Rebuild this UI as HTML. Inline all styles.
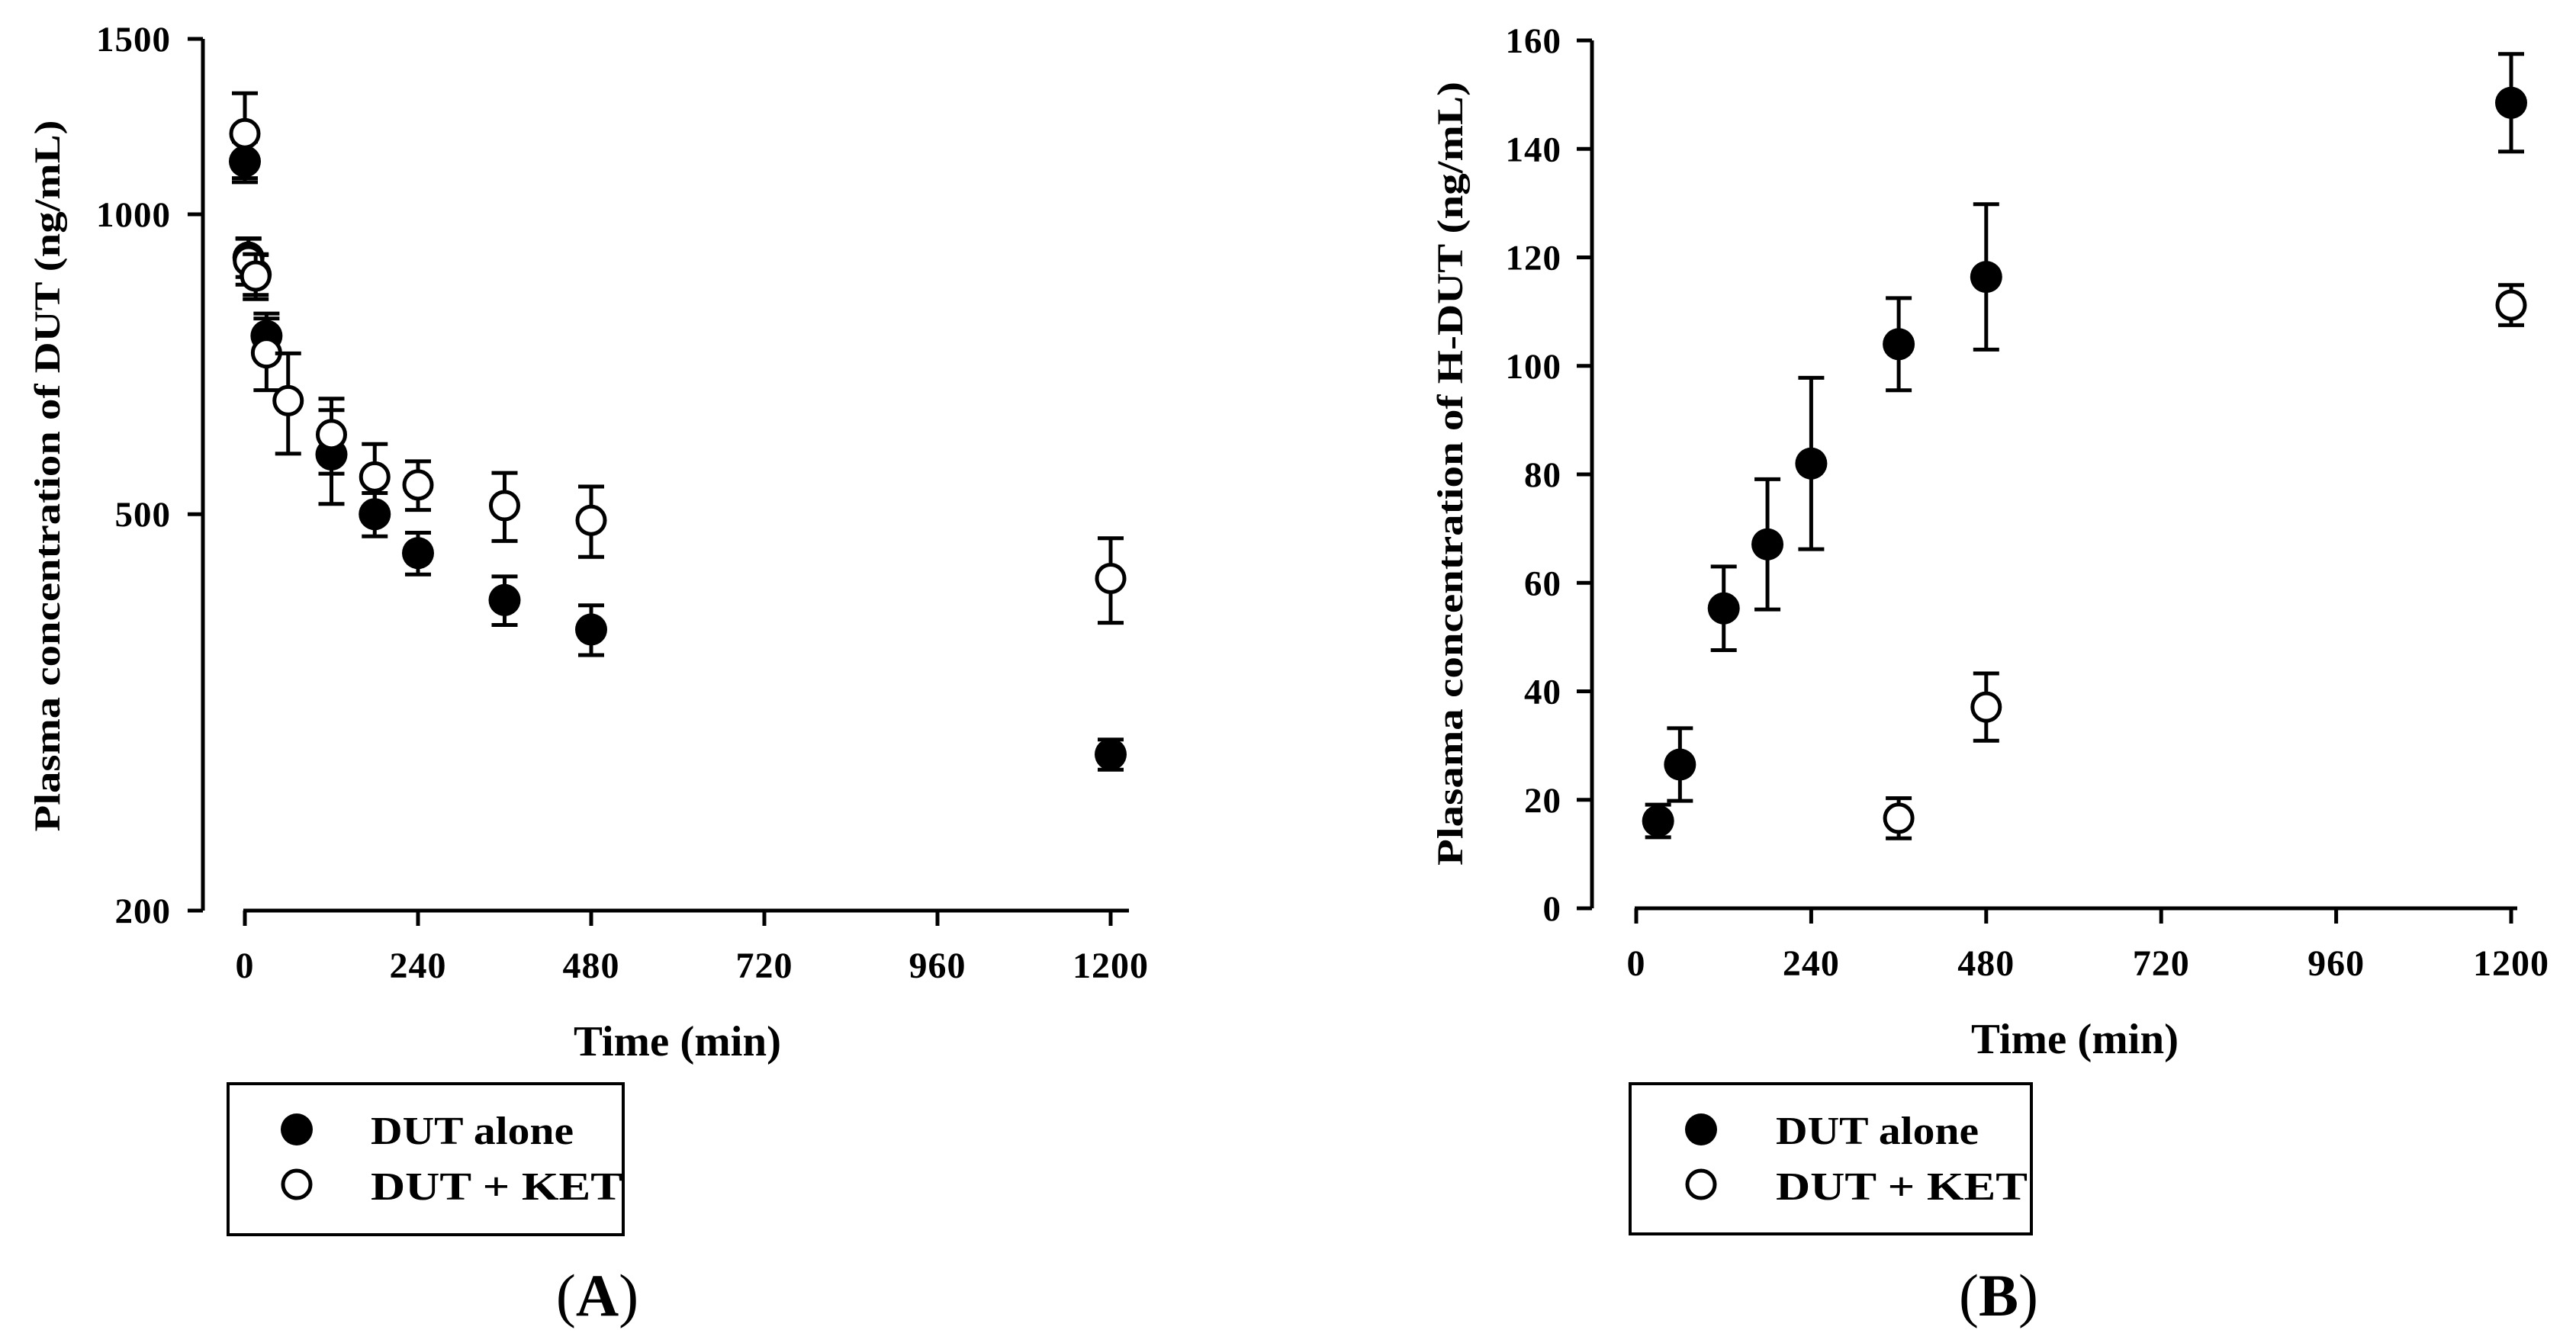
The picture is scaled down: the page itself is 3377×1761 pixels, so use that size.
<!DOCTYPE html>
<html><head><meta charset="utf-8"><style>
html,body{margin:0;padding:0;background:#fff;}
svg{display:block;}
text{font-family:"Liberation Serif","DejaVu Serif",serif;font-weight:bold;fill:#000;}
</style></head><body>
<svg id="fig" width="3377" height="1761" viewBox="0 0 3377 1761" xmlns="http://www.w3.org/2000/svg">
<rect width="3377" height="1761" fill="#fff"/>
<g id="panelA"></g>
<g id="panelB"></g>
</svg>
<script>
// Panel A data (log scale, DUT ng/mL)
const timesA = [0, 5, 15, 30, 60, 120, 180, 240, 360, 480, 1200];
const aloneA = [1130, 905, 870, 755, null, 574, 500, 457, 410, 383, 287];
const aloneErrA = [53, 40, 40, 40, null, 62, 25, 22, 23, 22, 10];
const ketA = [1205, 898, 867, 726, 650, 601, 545, 535, 510, 493, 431];
const ketErrA = [118, 48, 45, 60, 75, 52, 43, 30, 40, 40, 42];
const yTicksA = [200, 500, 1000, 1500];
const xTicks = [0, 240, 480, 720, 960, 1200];
// Panel B data (linear, H-DUT ng/mL)
const timesBAlone = [30, 60, 120, 180, 240, 360, 480, 1200];
const aloneB = [16.1, 26.5, 55.3, 67.1, 82, 104, 116.4, 148.5];
const aloneErrB = [3, 6.7, 7.7, 12, 15.8, 8.5, 13.4, 9];
const timesBKet = [360, 480, 1200];
const ketB = [16.6, 37.1, 111.2];
const ketErrB = [3.7, 6.2, 3.7];
const yTicksB = [0, 20, 40, 60, 80, 100, 120, 140, 160];

const NS = "http://www.w3.org/2000/svg";
function mk(parent, tag, attrs, txt) {
  const e = document.createElementNS(NS, tag);
  for (const k in attrs) e.setAttribute(k, attrs[k]);
  if (txt !== undefined) e.textContent = txt;
  parent.appendChild(e);
  return e;
}

function drawPanel(g, cfg) {
  const xs = t => cfg.x0 + (t / 1200) * (cfg.x1 - cfg.x0);
  const ys = cfg.ys;
  let el = mk(g, 'line', {x1: cfg.yAxisX, y1: ys(cfg.yTop), x2: cfg.yAxisX, y2: cfg.axisY, stroke: '#000', 'stroke-width': 5});
  
  
  cfg.yTicks.forEach(v => {
    const y = ys(v);
    let t = mk(g, 'line', {x1: cfg.yAxisX - 20, y1: y, x2: cfg.yAxisX, y2: y, stroke: '#000', 'stroke-width': 5});
    
    
    let l = mk(g, 'text', {x: cfg.yLabelRight, y: y + 16, 'text-anchor': 'end', 'font-size': 47, 'letter-spacing': 1}, String(v));
    
    
  });
  el = mk(g, 'line', {x1: cfg.x0 - 2, y1: cfg.axisY, x2: cfg.xAxisEnd, y2: cfg.axisY, stroke: '#000', 'stroke-width': 5});
  
  
  xTicks.forEach(v => {
    const x = xs(v);
    let t = mk(g, 'line', {x1: x, y1: cfg.axisY, x2: x, y2: cfg.axisY + 20, stroke: '#000', 'stroke-width': 5});
    
    
    let l = mk(g, 'text', {x: x, y: cfg.axisY + 88, 'text-anchor': 'middle', 'font-size': 48, 'letter-spacing': 1}, String(v));
    
    
  });
  el = mk(g, 'text', {x: cfg.xTitleX, y: cfg.axisY + 190, 'text-anchor': 'middle', 'font-size': 56, textLength: 272, lengthAdjust: 'spacingAndGlyphs'}, 'Time (min)');
  
  
  el = mk(g, 'text', {x: 0, y: 0, 'text-anchor': 'middle', 'font-size': 48, textLength: cfg.yTitleLen, lengthAdjust: 'spacingAndGlyphs', transform: `translate(${cfg.yTitleX},${cfg.yTitleY}) rotate(-90)`}, cfg.yTitle);
  
  

  function series(times, vals, errs, filled, name) {
    const sg = mk(g, 'g', {});
    
    
    times.forEach((t, i) => {
      if (vals[i] == null) return;
      const x = xs(t), y = ys(vals[i]);
      const yu = ys(vals[i] + errs[i]), yl = ys(vals[i] - errs[i]);
      let b = mk(sg, 'line', {x1: x, y1: yu, x2: x, y2: yl, stroke: '#000', 'stroke-width': 5});
      
      
      [yu, yl].forEach(yy => {
        let c = mk(sg, 'line', {x1: x - 17, y1: yy, x2: x + 17, y2: yy, stroke: '#000', 'stroke-width': 5});
        
        
      });
      let p = mk(sg, 'circle', {cx: x, cy: y, r: filled ? 21 : 18, fill: filled ? '#000' : '#fff', stroke: '#000', 'stroke-width': filled ? 0 : 5});
      
      
    });
  }
  series(cfg.tA, cfg.vA, cfg.eA, true, 'series-dut-alone');
  series(cfg.tK, cfg.vK, cfg.eK, false, 'series-dut-ket');

  const lg = mk(g, 'g', {});
  
  
  const L = cfg.legend;
  mk(lg, 'rect', {x: L.x, y: L.y, width: L.w, height: L.h, fill: 'none', stroke: '#000', 'stroke-width': 4});
  let m = mk(lg, 'circle', {cx: L.mx, cy: L.y + 60, r: 21, fill: '#000'});
  
  
  let tx = mk(lg, 'text', {x: L.tx, y: L.y + 79, 'font-size': 52, textLength: 266, lengthAdjust: 'spacingAndGlyphs'}, 'DUT alone');
  
  
  m = mk(lg, 'circle', {cx: L.mx, cy: L.y + 132, r: 18, fill: '#fff', stroke: '#000', 'stroke-width': 5});
  
  
  tx = mk(lg, 'text', {x: L.tx, y: L.y + 152, 'font-size': 52, textLength: 330, lengthAdjust: 'spacingAndGlyphs'}, 'DUT + KET');
  
  

  const pl = mk(g, 'text', {x: cfg.labelX, y: 1725, 'text-anchor': 'middle', 'font-size': 78, 'font-weight': 'normal'});
  
  
  mk(pl, 'tspan', {'font-weight': 'normal'}, '(');
  mk(pl, 'tspan', {'font-weight': 'bold'}, cfg.label);
  mk(pl, 'tspan', {'font-weight': 'normal'}, ')');
}

const lgA = Math.log10(200), lgTop = Math.log10(1500);
drawPanel(document.getElementById('panelA'), {
  x0: 321, x1: 1456, xAxisEnd: 1480, axisY: 1194, yAxisX: 266, yTop: 1500,
  ys: v => 1194 - (Math.log10(v) - lgA) / (lgTop - lgA) * (1194 - 51),
  yTicks: yTicksA, yLabelRight: 224,
  xTitleX: 888, yTitleX: 78, yTitleY: 624, yTitleLen: 933,
  yTitle: 'Plasma concentration of DUT (ng/mL)',
  tA: timesA, vA: aloneA, eA: aloneErrA, tK: timesA, vK: ketA, eK: ketErrA,
  legend: {x: 299, y: 1421, w: 518, h: 198, mx: 389, tx: 486},
  labelX: 783, label: 'A'
});
drawPanel(document.getElementById('panelB'), {
  x0: 2145, x1: 3292, xAxisEnd: 3300, axisY: 1191, yAxisX: 2087, yTop: 160,
  ys: v => 1191 - v / 160 * (1191 - 53),
  yTicks: yTicksB, yLabelRight: 2047,
  xTitleX: 2720, yTitleX: 1917, yTitleY: 621, yTitleLen: 1028,
  yTitle: 'Plasama concentration of H-DUT (ng/mL)',
  tA: timesBAlone, vA: aloneB, eA: aloneErrB, tK: timesBKet, vK: ketB, eK: ketErrB,
  legend: {x: 2137, y: 1421, w: 526, h: 197, mx: 2230, tx: 2328},
  labelX: 2620, label: 'B'
});
</script>
</body></html>
